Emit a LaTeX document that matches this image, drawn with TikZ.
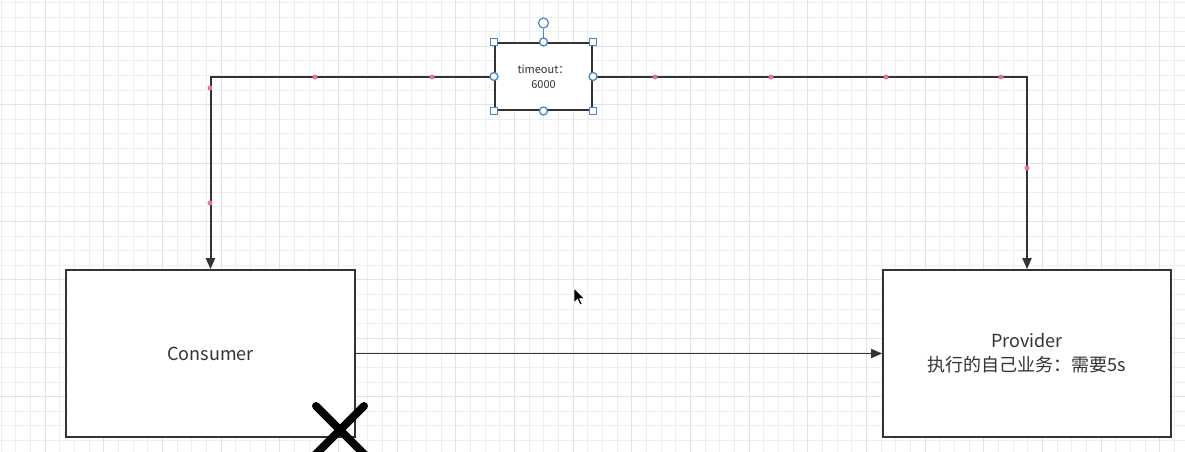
\documentclass[tikz,border=0pt]{standalone}
\usepackage{fontspec}
\setmainfont{Noto Sans CJK SC}
\usetikzlibrary{arrows.meta,positioning}
\definecolor{GridMinor}{HTML}{EEEEEE}
\definecolor{GridMajor}{HTML}{E2E2E2}
\definecolor{EdgeGray}{HTML}{333333}
\definecolor{HandleBlue}{HTML}{4A86C8}
\definecolor{WayRed}{HTML}{E07A88}

\begin{document}
\begin{tikzpicture}[x=1pt,y=-1pt, every node/.style={font=\fontsize{18}{24}\selectfont,align=center,text=EdgeGray}]
    \useasboundingbox (0,0) rectangle (1185,452);
    \clip (0,0) rectangle (1185,452);
    \fill[white] (0,0) rectangle (1185,452);
    % grid
    \foreach \i in {0,...,81}{\draw[GridMinor,line width=1pt] ({1+14.67*\i},0) -- ({1+14.67*\i},452);}
    \foreach \i in {0,...,31}{\draw[GridMinor,line width=1pt] (0,{2.5+14.6*\i}) -- (1185,{2.5+14.6*\i});}
    \foreach \i in {0,...,20}{\draw[GridMajor,line width=1pt] ({45+58.68*\i},0) -- ({45+58.68*\i},452);}
    \foreach \i in {0,...,7}{\draw[GridMajor,line width=1pt] (0,{46.3+58.4*\i}) -- (1185,{46.3+58.4*\i});}
    % boxes
    \node[draw=EdgeGray,line width=1.7pt,fill=white,minimum width=289pt,minimum height=167pt] (consumer) at (210.5,353.5) {Consumer};
    \node[draw=EdgeGray,line width=1.7pt,fill=white,minimum width=288pt,minimum height=167pt] (provider) at (1027,353.5) {Provider\\执行的自己业务：需要5s};
    \node[draw=EdgeGray,line width=2pt,fill=white,minimum width=97pt,minimum height=67pt,font=\fontsize{11}{15}\selectfont] (timeout) at (543.5,76.5) {timeout：\\6000};
    % connectors
    \draw[-{Triangle[length=11pt,width=9pt]},EdgeGray,line width=2pt] (timeout.west) -| (consumer.north);
    \draw[-{Triangle[length=11pt,width=9pt]},EdgeGray,line width=2pt] (timeout.east) -| (provider.north);
    \draw[-{Triangle[length=11pt,width=9pt]},EdgeGray,line width=1.7pt] (consumer.east) -- (provider.west);
    % waypoints
    \foreach \x/\y in {315/77,432/77,655/77,771/77,886/77,1001/77,210/88,210/203,1027/168}{\fill[WayRed] (\x,\y) circle (2.5pt);}
    % selection handles
    \node[draw=HandleBlue,fill=white,line width=1.2pt,circle,inner sep=0pt,minimum size=10pt] (rot) at (543.5,23) {};
    \draw[HandleBlue,line width=1.4pt] (rot) -- (timeout.north);
    \foreach \a in {north west,north east,south west,south east}{\node[draw=HandleBlue,fill=white,line width=1.3pt,inner sep=0pt,minimum size=7pt] at (timeout.\a) {};}
    \foreach \a in {north,south,east,west}{\node[draw=HandleBlue,fill=white,line width=1.3pt,circle,inner sep=0pt,minimum size=8pt] at (timeout.\a) {};}
    % cross
    \draw[black,line width=8pt,line cap=round] (316,406) -- (366,456) (364,406) -- (314,456);
    % cursor
    \fill[black,draw=white,line width=0.8pt] (574,288) -- ++(0,15) -- ++(3.5,-3.5) -- ++(2.5,5.5) -- ++(2.2,-1) -- ++(-2.5,-5.3) -- ++(5,0) -- cycle;
\end{tikzpicture}
\end{document}
